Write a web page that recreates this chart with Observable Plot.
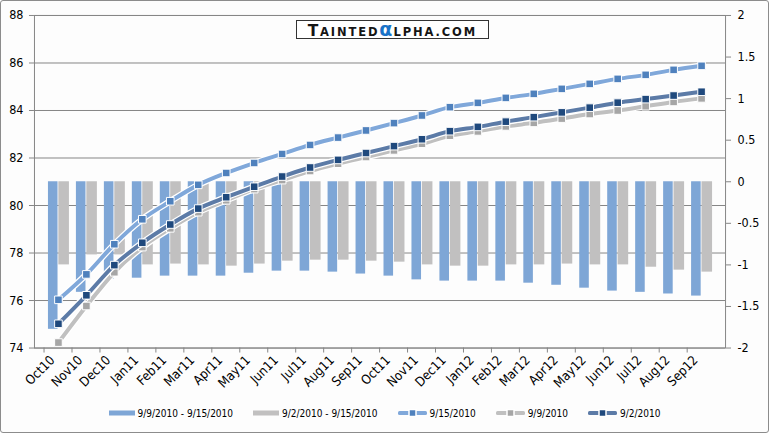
<!DOCTYPE html>
<html><head><meta charset="utf-8">
<script src="https://cdn.jsdelivr.net/npm/d3@7"></script>
<script src="https://cdn.jsdelivr.net/npm/@observablehq/plot@0.6"></script>
<style>
body{margin:0;background:#fff;}
#wrap{position:relative;width:767px;height:431px;border:1px solid #8c8c8c;border-radius:3px;background:#fdfdfd;overflow:hidden;font-family:"DejaVu Sans Condensed","Liberation Sans",sans-serif;}
#chart{position:absolute;left:-1px;top:-1px;}
#logo{position:absolute;left:295px;top:19px;width:191px;height:17px;border:1px solid #333;background:#fff;font-family:"DejaVu Sans",sans-serif;font-weight:bold;color:#151515;white-space:nowrap;display:flex;justify-content:center;align-items:baseline;line-height:17px;}
#logo .big{font-size:15.5px;letter-spacing:1.5px;}
#logo .sm{font-size:11.5px;letter-spacing:1.9px;}
#logo .al{font-size:19px;color:#1a73c8;font-weight:bold;margin-right:1px;}
#legend{position:absolute;left:0;top:404px;width:767px;height:16px;display:flex;justify-content:center;align-items:center;gap:20px;font-size:10px;color:#000;}
#legend .it{display:flex;align-items:center;gap:3px;}
</style>
</head><body>
<div id="wrap">
  <div id="chart"></div>
  <div id="logo"><span class="big">T</span><span class="sm">AINTED</span><span class="al">α</span><span class="sm">LPHA.COM</span></div>
  <div id="legend"></div>
</div>
<script>
const months = ["Oct10","Nov10","Dec10","Jan11","Feb11","Mar11","Apr11","May11","Jun11","Jul11","Aug11","Sep11","Oct11","Nov11","Dec11","Jan12","Feb12","Mar12","Apr12","May12","Jun12","Jul12","Aug12","Sep12"];
const s0915 = [76.03,77.10,78.37,79.42,80.18,80.87,81.37,81.79,82.17,82.55,82.86,83.16,83.47,83.79,84.14,84.32,84.53,84.70,84.91,85.12,85.33,85.50,85.71,85.88];
const s0909 = [74.23,75.77,77.19,78.25,79.04,79.72,80.22,80.69,81.07,81.45,81.76,82.04,82.32,82.60,82.94,83.12,83.33,83.48,83.66,83.85,84.00,84.18,84.36,84.51];
const s0902 = [75.02,76.22,77.49,78.43,79.20,79.87,80.35,80.79,81.22,81.60,81.92,82.21,82.50,82.79,83.13,83.31,83.53,83.72,83.92,84.12,84.33,84.48,84.63,84.79];
const diff0909 = [-1.775,-1.33,-1.175,-1.16,-1.135,-1.135,-1.135,-1.10,-1.075,-1.075,-1.087,-1.11,-1.135,-1.18,-1.195,-1.195,-1.195,-1.22,-1.245,-1.28,-1.315,-1.33,-1.35,-1.375];
const diff0902 = [-1.0,-0.88,-0.88,-1.0,-0.99,-1.0,-1.015,-0.99,-0.955,-0.943,-0.943,-0.955,-0.967,-1.0,-1.015,-1.015,-1.0,-1.0,-0.99,-1.0,-1.0,-1.028,-1.063,-1.087];
const leftTicks = [74,76,78,80,82,84,86,88];
const rightTicks = [-2,-1.5,-1,-0.5,0,0.5,1,1.5,2];
const seriesNames = ["9/9/2010 - 9/15/2010","9/2/2010 - 9/15/2010","9/15/2010","9/9/2010","9/2/2010"];

// right axis [-2,2] mapped onto left axis [74,88]
const toL = v => 81 + 3.5 * v;
const rows = months.map((m, i) => ({m, a: s0915[i], b: s0909[i], c: s0902[i], d1: diff0909[i], d2: diff0902[i]}));

const C = {bar1:"#7ea6d6", bar2:"#c1c0c0", l1:"#80a8da", m1:"#4f81bd", l2:"#c0c0c0", m2:"#a6a6a6", l3:"#5c7ba7", m3:"#1f497d"};
const bw = 692/24;

function lineMarks(key, lc, mc) {
  return [
    Plot.line(rows, {x:"m", y:key, stroke:"#ffffff", strokeWidth:6.5, curve:"monotone-x"}),
    Plot.line(rows, {x:"m", y:key, stroke:lc, strokeWidth:4, curve:"monotone-x"}),
    Plot.dot(rows, {x:"m", y:key, symbol:"square", r:4.3, fill:mc, stroke:"#ffffff", strokeWidth:1})
  ];
}

const chart = Plot.plot({
  width: 769, height: 398,
  marginLeft: 34, marginRight: 43, marginTop: 15, marginBottom: 50,
  style: {fontFamily: '"DejaVu Sans Condensed","Liberation Sans",sans-serif', fontSize: "12.5px", color: "#000", background: "transparent", overflow: "visible"},
  x: {type: "band", domain: months, padding: 0, label: null},
  y: {domain: [74, 88], label: null},
  marks: [
    Plot.gridY(leftTicks, {stroke: "#868686", strokeOpacity: 1}),
    Plot.barY(rows, {x: "m", y1: toL(0), y2: d => toL(d.d1), fill: C.bar1, insetLeft: 4, insetRight: bw/2}),
    Plot.barY(rows, {x: "m", y1: toL(0), y2: d => toL(d.d2), fill: C.bar2, insetLeft: bw/2, insetRight: 3}),
    ...lineMarks("a", C.l1, C.m1),
    ...lineMarks("b", C.l2, C.m2),
    ...lineMarks("c", C.l3, C.m3),
    Plot.frame({stroke: "#868686"}),
    Plot.axisY(leftTicks, {anchor: "left", tickSize: 5, tickPadding: 6, stroke: "#868686", fill: "#000", label: null}),
    Plot.axisY(rightTicks.map(toL), {anchor: "right", tickSize: 5, tickPadding: 7, stroke: "#868686", fill: "#000", label: null,
      tickFormat: v => String(Math.round((v - 81) / 3.5 * 10) / 10)}),
    Plot.axisX({tickSize: 5, tickFormat: () => "", stroke: "#868686", dx: -bw/2, label: null}),
    Plot.axisX({tickSize: 0, tickRotate: -45, tickPadding: 10, fill: "#000", label: null, dx: -6, fontSize: 13})
  ]
});
document.getElementById("chart").appendChild(chart);

// legend
const lg = document.getElementById("legend");
const sw = [
  {t:"bar", c:C.bar1}, {t:"bar", c:C.bar2},
  {t:"line", c:C.l1, m:C.m1}, {t:"line", c:C.l2, m:C.m2}, {t:"line", c:C.l3, m:C.m3}
];
seriesNames.forEach((name, i) => {
  const s = sw[i];
  const it = document.createElement("div"); it.className = "it";
  const ns = "http://www.w3.org/2000/svg";
  const svg = document.createElementNS(ns, "svg");
  svg.setAttribute("width", s.t === "bar" ? 26 : 29); svg.setAttribute("height", 8);
  if (s.t === "bar") {
    const r = document.createElementNS(ns, "rect");
    r.setAttribute("x", 0); r.setAttribute("y", 1.5); r.setAttribute("width", 26); r.setAttribute("height", 5); r.setAttribute("fill", s.c);
    svg.appendChild(r);
  } else {
    const l = document.createElementNS(ns, "rect");
    l.setAttribute("x", 0); l.setAttribute("y", 2); l.setAttribute("width", 29); l.setAttribute("height", 4); l.setAttribute("fill", s.c); l.setAttribute("rx", 1.5);
    svg.appendChild(l);
    const q = document.createElementNS(ns, "rect");
    q.setAttribute("x", 11); q.setAttribute("y", 0.5); q.setAttribute("width", 7); q.setAttribute("height", 7); q.setAttribute("fill", s.m); q.setAttribute("stroke", "#fff"); q.setAttribute("stroke-width", 1.5);
    svg.appendChild(q);
  }
  it.appendChild(svg);
  const sp = document.createElement("span"); sp.textContent = name;
  it.appendChild(sp);
  lg.appendChild(it);
});
</script>
</body></html>
